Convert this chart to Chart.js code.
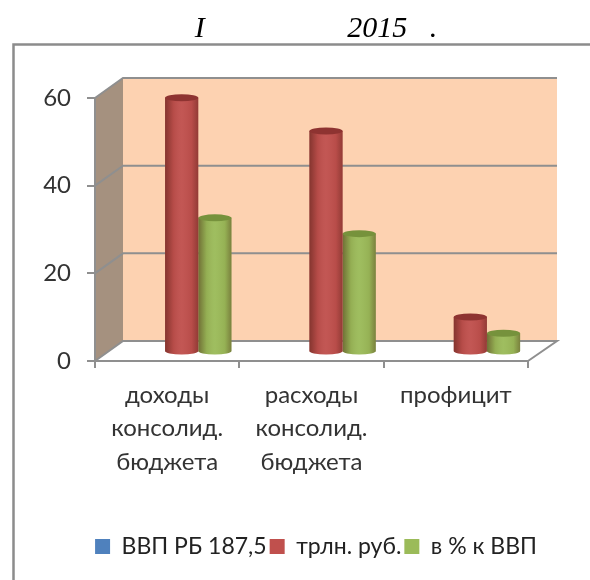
<!DOCTYPE html>
<html>
<head>
<meta charset="utf-8">
<script src="https://cdn.jsdelivr.net/npm/chart.js@4"></script>
<style>
  html, body { margin: 0; padding: 0; background: #fff; }
  #wrap { width: 590px; height: 580px; }
</style>
</head>
<body>
<div id="wrap"><canvas id="chart" width="590" height="580"></canvas></div>
<script>
const categories = [['доходы', 'консолид.', 'бюджета'], ['расходы', 'консолид.', 'бюджета'], 'профицит'];
const seriesNames = ['ВВП РБ 187,5', 'трлн. руб.', 'в % к ВВП'];
const gdpValues = [null, null, null];
const trillionValues = [58, 50.4, 8];
const percentValues = [30.6, 27, 4.3];
const yTicks = [0, 20, 40, 60];

const BLUE = '#4f81bd', RED = '#c0504d', GREEN = '#9bbb59';
const DARK = { [RED]: '#8e3331', [GREEN]: '#76923c', [BLUE]: '#3a6190' };
const LINE = '#8f8f8f';

// глубина псевдо-3D: задняя стенка и смещение столбцов
const wallDx = 28, wallDy = -20;
const barDx = 14.5, barDy = -9;
const capRy = 3.5;

const hasValue = (chart, di, i) => chart.data.datasets[di].data[i] !== null;

// рамка, стенки и пол
const wallPlugin = {
  id: 'wall',
  beforeDraw(chart) {
    const c = chart.ctx, a = chart.chartArea, ys = chart.scales.y;
    c.save();
    c.fillStyle = '#fff';
    c.fillRect(0, 0, chart.width, chart.height);
    c.strokeStyle = '#8c8c8c';
    c.lineWidth = 2.5;
    c.beginPath();
    c.moveTo(13.5, 580); c.lineTo(13.5, 44.5); c.lineTo(590, 44.5);
    c.stroke();

    c.fillStyle = '#fdd2b1';
    c.fillRect(a.left + wallDx, a.top + wallDy, a.width + 1, a.height);

    c.fillStyle = '#a5917f';
    c.beginPath();
    c.moveTo(a.left, a.top);
    c.lineTo(a.left + wallDx, a.top + wallDy);
    c.lineTo(a.left + wallDx, a.bottom + wallDy);
    c.lineTo(a.left, a.bottom);
    c.closePath();
    c.fill();

    c.strokeStyle = LINE;
    c.lineWidth = 2;
    ys.ticks.forEach(t => {
      const y = ys.getPixelForValue(t.value);
      c.beginPath();
      c.moveTo(a.left, y);
      c.lineTo(a.left + wallDx, y + wallDy);
      c.lineTo(a.right + wallDx + 1, y + wallDy);
      if (t.value === 0) c.lineTo(a.right, y);
      c.stroke();
    });
    c.restore();
  },
  // столбцы стоят в глубине, поэтому сдвигаем их и дорисовываем цилиндр
  beforeDatasetDraw(chart, args) {
    const c = chart.ctx, color = chart.data.datasets[args.index].backgroundColor;
    c.save();
    c.translate(barDx, barDy);
    args.meta.data.forEach((el, i) => {
      if (!hasValue(chart, args.index, i)) return;
      c.fillStyle = color;
      c.beginPath();
      c.ellipse(el.x, el.base, el.width / 2, capRy, 0, 0, Math.PI);
      c.fill();
    });
  },
  afterDatasetDraw(chart, args) {
    const c = chart.ctx, color = chart.data.datasets[args.index].backgroundColor;
    args.meta.data.forEach((el, i) => {
      if (!hasValue(chart, args.index, i)) return;
      const l = el.x - el.width / 2, h = el.base - el.y;
      const g = c.createLinearGradient(l, 0, l + el.width, 0);
      g.addColorStop(0, 'rgba(60,20,10,0.45)');
      g.addColorStop(0.25, 'rgba(60,20,10,0.08)');
      g.addColorStop(0.5, 'rgba(255,255,255,0.04)');
      g.addColorStop(0.8, 'rgba(60,20,10,0.06)');
      g.addColorStop(1, 'rgba(60,20,10,0.35)');
      c.fillStyle = g;
      c.fillRect(l, el.y, el.width, h);
      c.beginPath();
      c.ellipse(el.x, el.base, el.width / 2, capRy, 0, 0, Math.PI);
      c.fill();
      c.fillStyle = DARK[color];
      c.beginPath();
      c.ellipse(el.x, el.y, el.width / 2, capRy, 0, 0, Math.PI * 2);
      c.fill();
    });
    c.restore();
  }
};

new Chart(document.getElementById('chart'), {
  type: 'bar',
  plugins: [wallPlugin],
  data: {
    labels: categories,
    datasets: [
      { label: seriesNames[0], data: gdpValues, backgroundColor: BLUE },
      { label: seriesNames[1], data: trillionValues, backgroundColor: RED },
      { label: seriesNames[2], data: percentValues, backgroundColor: GREEN }
    ]
  },
  options: {
    responsive: false,
    animation: false,
    layout: { padding: { left: 42, right: 0, top: 0, bottom: 12 } },
    datasets: { bar: { categoryPercentage: 0.69, barPercentage: 1, clip: false } },
    scales: {
      x: {
        offset: true,
        afterFit(s) { s.height = 171; },
        grid: { offset: true, drawOnChartArea: false, color: LINE, lineWidth: 2, tickLength: 7 },
        border: { color: LINE, width: 2 },
        ticks: {
          autoSkip: false, maxRotation: 0, padding: 11,
          color: '#333',
          font: { family: 'Lato', size: 24, lineHeight: 1.38 }
        }
      },
      y: {
        min: 0, max: 60,
        afterFit(s) { s.width = 53; },
        afterBuildTicks(s) { s.ticks = yTicks.map(value => ({ value })); },
        grid: { drawOnChartArea: false, color: LINE, lineWidth: 2, tickLength: 8 },
        border: { color: LINE, width: 2 },
        ticks: { padding: 16, color: '#333', font: { family: 'Lato', size: 24 } }
      },
      // пустая ось справа: держит правый край области построения
      yr: {
        position: 'right',
        afterFit(s) { s.width = 62; },
        grid: { display: false },
        border: { display: false },
        ticks: { display: false }
      }
    },
    plugins: {
      title: {
        display: true,
        text: 'I                   2015   .',
        color: '#000',
        font: { family: '"Liberation Serif"', size: 30, style: 'italic', weight: 'normal' },
        padding: { top: 11, bottom: 51 }
      },
      legend: {
        position: 'bottom',
        labels: {
          boxWidth: 15, boxHeight: 15, padding: 3,
          color: '#222',
          font: { family: 'Lato', size: 23 }
        }
      },
      tooltip: { enabled: false }
    }
  }
});
</script>
</body>
</html>
